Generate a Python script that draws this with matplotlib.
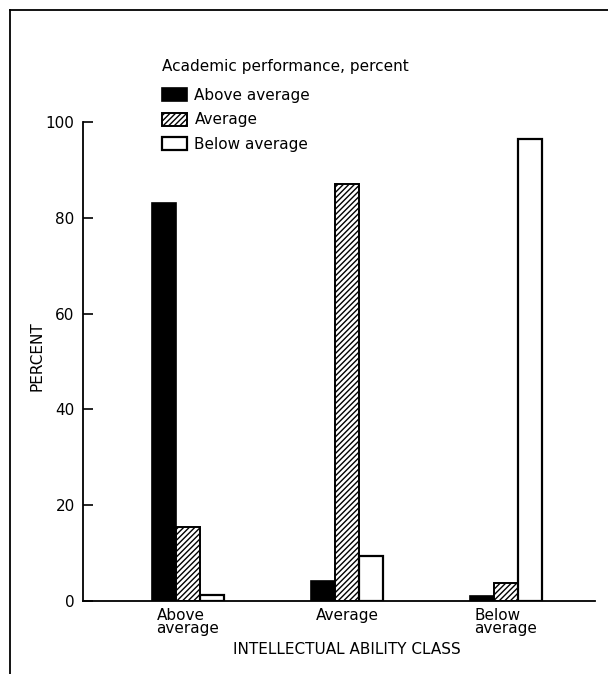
import numpy as np
import matplotlib.pyplot as plt
from matplotlib.lines import Line2D

# Data
classes = ["Above\naverage", "Average", "Below\naverage"]
above_avg = [83, 4.2, 1.0]
average = [15.5, 87, 3.8]
below_avg = [1.2, 9.4, 96.5]

plt.rcParams["font.family"] = ["DejaVu Sans"]
plt.rcParams["hatch.linewidth"] = 1.0

fig = plt.figure(figsize=(6.08, 6.74), dpi=100)
ax = fig.add_axes([83 / 608, 1 - 601 / 674, (595 - 83) / 608, (601 - 122) / 674])

x = np.arange(len(classes))
w = 0.152

ax.bar(x - w, above_avg, w, color="black", edgecolor="black", linewidth=1.2,
       label="Above average")
ax.bar(x, average, w, color="white", edgecolor="black", hatch="//////",
       linewidth=1.4, label="Average")
ax.bar(x + w, below_avg, w, color="white", edgecolor="black", linewidth=1.6,
       label="Below average")

ax.set_xlim(-0.66, 2.56)
ax.set_ylim(0, 100)
ax.set_yticks([0, 20, 40, 60, 80, 100])
ax.tick_params(axis="y", direction="in", length=7, width=1.2, labelsize=11, pad=6)
ax.set_xticks(x)
ax.set_xticklabels(classes, fontsize=11, linespacing=0.85, ha="center",
                   multialignment="left")
ax.tick_params(axis="x", length=0, pad=5)

for side in ("top", "right"):
    ax.spines[side].set_visible(False)
for side in ("left", "bottom"):
    ax.spines[side].set_linewidth(1.3)

ax.set_ylabel("PERCENT", fontsize=11)
ax.yaxis.set_label_coords(-0.076, 0.511)
ax.set_xlabel("INTELLECTUAL ABILITY CLASS", fontsize=11)
ax.xaxis.set_label_coords(0.515, -0.085)

leg = ax.legend(title="Academic performance, percent", loc="upper left",
                bbox_to_anchor=(0.143, 1.144), frameon=False, fontsize=11,
                title_fontsize=11, handlelength=1.6, handleheight=0.9,
                handletextpad=0.5, labelspacing=0.62, borderaxespad=0)
leg._legend_box.align = "left"
leg._legend_box.sep = 10

# outer frame of the original figure
fig.add_artist(Line2D([10 / 608, 1], [1 - 10 / 674, 1 - 10 / 674],
                      transform=fig.transFigure, color="black", linewidth=1.3))
fig.add_artist(Line2D([10 / 608, 10 / 608], [0, 1 - 10 / 674],
                      transform=fig.transFigure, color="black", linewidth=1.3))

fig.savefig("out.png", dpi=100)
